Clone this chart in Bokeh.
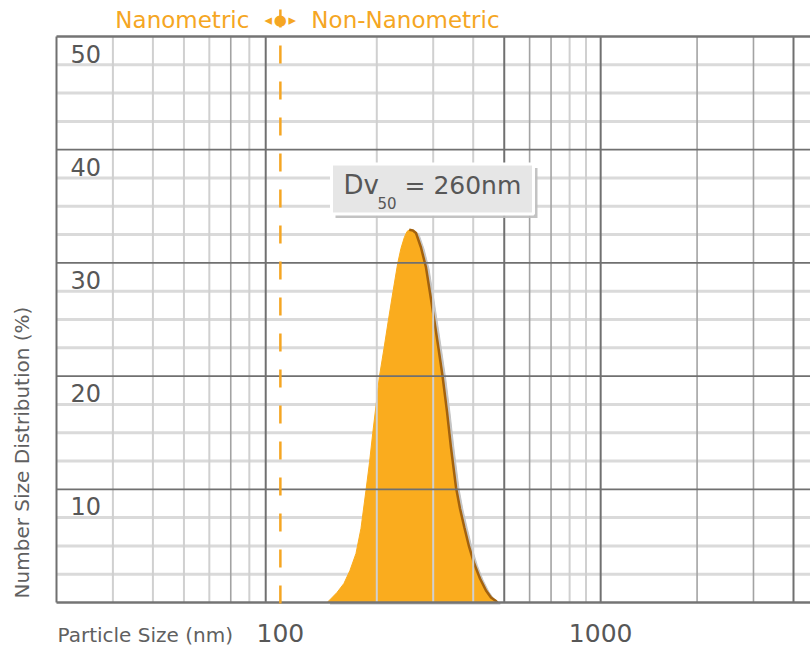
import math
from bokeh.plotting import figure
from bokeh.models import Range1d, Label, BoxAnnotation
from bokeh.embed import file_html
from bokeh.resources import INLINE

# ---------------- data ----------------
size_nm = [140, 142.1, 150.2, 157.9, 164.9, 172.2, 178.5, 185.0, 189.8, 194.2, 198.9,
           203.6, 210.6, 217.3, 224.7, 232.4, 237.9, 243.7, 248.5, 252.6,
           259.4, 265.1, 274.8, 284.8, 293.1, 302.4, 311.7, 321.2, 331.3, 340.9,
           353.4, 363.7, 375.2, 388.1, 403.0, 420.0, 438.5, 454.5, 471.2, 476]
dist_pct = [0.0, 0.18, 0.88, 1.68, 2.83, 4.33, 6.54, 9.89, 12.37, 14.93, 17.40,
            19.88, 22.44, 24.91, 27.47, 29.95, 31.27, 32.24, 32.77, 32.92,
            32.86, 32.64, 31.36, 29.62, 27.39, 24.91, 22.44, 19.90, 16.87, 13.69,
            10.19, 8.30, 6.65, 4.95, 3.42, 2.12, 1.06, 0.44, 0.13, 0.0]
peak_index = 19

x_tick_values = [100, 1000]
x_tick_labels = ["100", "1000"]
y_tick_values = [10, 20, 30, 40, 50]
y_tick_labels = ["10", "20", "30", "40", "50"]

grid_x_dark = [90, 500, 1000, 4000]
grid_x_medium = [70, 600, 700, 2000, 3000]
grid_x_light = [30, 40, 50, 60, 80, 200, 300, 400, 800, 900]
grid_y_dark = [10, 20, 30, 40]
grid_y_light = [2.5, 5, 7.5, 12.5, 15, 17.5, 22.5, 25, 27.5, 32.5, 35, 37.5, 42.5, 45, 47.5]

x_min, x_max = 20, 4520
y_min, y_max = 0, 50
nano_boundary = 100
dv50_main = "Dv"
dv50_sub = "50"
dv50_value = "= 260nm"

# ---------------- layout (pixels) ----------------
W, H = 810, 647
BOX_L, BOX_R, BOX_T, BOX_B = 56, 810, 36, 602
dec_px = (BOX_R - BOX_L) / math.log10(x_max / x_min)
unit_px = (BOX_B - BOX_T) / (y_max - y_min)
x_start = x_min / 10 ** (BOX_L / dec_px)
x_end = x_max * 10 ** ((W - BOX_R) / dec_px)
y_start = y_min - (H - BOX_B) / unit_px
y_end = y_max + BOX_T / unit_px


def sy(py):
    """page y (from top) -> frame screen y (from bottom)"""
    return H - py


def dy(py):
    """page y (from top) -> data y"""
    return y_max - (py - BOX_T) / unit_px


def dx(px):
    return x_min * 10 ** ((px - BOX_L) / dec_px)


# ---------------- styles ----------------
ORANGE = "#FAAC1E"
ORANGE_TXT = "#F5A623"
BROWN = "#A3620E"
TXT = "#575757"
FONT = "DejaVu Sans"

p = figure(width=W, height=H, x_axis_type="log",
           x_range=Range1d(x_start, x_end), y_range=Range1d(y_start, y_end),
           output_backend="svg", toolbar_location=None,
           min_border=0, min_border_left=0, min_border_right=0,
           min_border_top=0, min_border_bottom=0)
p.xaxis.visible = False
p.yaxis.visible = False
p.xgrid.visible = False
p.ygrid.visible = False
p.outline_line_color = None
p.background_fill_color = "white"
p.border_fill_color = "white"

# light horizontal grid (under the curve)
p.segment(x0=x_min, x1=x_max, y0=grid_y_light, y1=grid_y_light,
          line_color="#dadada", line_width=3)

# curve: shadow, fill, right edge
shift = 10 ** (3 / dec_px)
p.patch([v * shift for v in size_nm], [v - 1.5 / unit_px for v in dist_pct],
        fill_color="#c4c4c4", line_color="#c4c4c4", line_width=1)
p.patch(size_nm, dist_pct, fill_color=ORANGE, line_color=ORANGE, line_width=1)
p.line(size_nm[peak_index:], dist_pct[peak_index:], line_color=BROWN, line_width=2.5)

# grid lines over the curve
p.segment(x0=grid_x_light, x1=grid_x_light, y0=y_min, y1=y_max,
          line_color="#d0d0d0", line_width=2)
p.segment(x0=grid_x_medium, x1=grid_x_medium, y0=y_min, y1=y_max,
          line_color="#a3a3a3", line_width=1.6)
p.segment(x0=x_min, x1=x_max, y0=grid_y_dark, y1=grid_y_dark,
          line_color="#707070", line_width=1.8)
p.segment(x0=grid_x_dark + [x_min], x1=grid_x_dark + [x_min], y0=y_min, y1=y_max,
          line_color="#707070", line_width=2)
p.segment(x0=x_min, x1=x_max, y0=[y_min, y_max], y1=[y_min, y_max],
          line_color="#747474", line_width=2.5)

# nanometric boundary dashed line
p.segment(x0=nano_boundary, x1=nano_boundary, y0=dy(9), y1=dy(609),
          line_color=ORANGE_TXT, line_width=2.5, line_dash="18 18")

# y tick labels (inside the frame)
for v, t in zip(y_tick_values, y_tick_labels):
    p.add_layout(Label(x=70, y=v, x_units="screen", y_units="data", y_offset=-17,
                       text=t, text_font=FONT, text_font_size="24px", text_color=TXT,
                       text_align="left", text_baseline="middle"))

# x tick labels
for v, t in zip(x_tick_values, x_tick_labels):
    p.add_layout(Label(x=v, y=sy(632), x_units="data", y_units="screen",
                       text=t, text_font=FONT, text_font_size="25px", text_color=TXT,
                       text_align="center", text_baseline="middle"))

p.add_layout(Label(x=57, y=sy(634), x_units="screen", y_units="screen",
                   text="Particle Size (nm)", text_font=FONT, text_font_size="20px",
                   text_color="#606060", text_align="left", text_baseline="middle"))
p.add_layout(Label(x=21.5, y=sy(452), x_units="screen", y_units="screen", angle=math.pi / 2,
                   text="Number Size Distribution (%)", text_font=FONT, text_font_size="20px",
                   text_color="#606060", text_align="center", text_baseline="middle"))

# header
p.add_layout(Label(x=nano_boundary, y=sy(19), x_units="data", y_units="screen", x_offset=-31,
                   text="Nanometric", text_font=FONT, text_font_size="23px",
                   text_color=ORANGE_TXT, text_align="right", text_baseline="middle"))
p.add_layout(Label(x=nano_boundary, y=sy(19), x_units="data", y_units="screen", x_offset=31,
                   text="Non-Nanometric", text_font=FONT, text_font_size="23px",
                   text_color=ORANGE_TXT, text_align="left", text_baseline="middle"))
for sym, off in [("\u25C2", -12), ("\u25CF", 0), ("\u25B8", 12)]:
    p.add_layout(Label(x=nano_boundary, y=sy(19), x_units="data", y_units="screen", x_offset=off,
                       text=sym, text_font=FONT, text_font_size="15px",
                       text_color=ORANGE_TXT, text_align="center", text_baseline="middle"))

# Dv50 box
box_l, box_r, box_t, box_b = dx(331), dx(533), dy(163.5), dy(213.5)
p.add_layout(BoxAnnotation(left=dx(335), right=dx(537), top=dy(167.5), bottom=dy(217.5),
                           fill_color="#bcbcbc", fill_alpha=0.9, line_alpha=0))
p.add_layout(BoxAnnotation(left=box_l, right=box_r, top=box_t, bottom=box_b,
                           fill_color="#e6e6e6", fill_alpha=1, line_color="white",
                           line_alpha=1, line_width=3))
p.add_layout(Label(x=343, y=sy(184.5), x_units="screen", y_units="screen", text=dv50_main,
                   text_font=FONT, text_font_size="26px", text_color=TXT,
                   text_baseline="middle"))
p.add_layout(Label(x=377, y=sy(202), x_units="screen", y_units="screen", text=dv50_sub,
                   text_font=FONT, text_font_size="15px", text_color=TXT,
                   text_baseline="middle"))
p.add_layout(Label(x=404, y=sy(184.5), x_units="screen", y_units="screen", text=dv50_value,
                   text_font=FONT, text_font_size="25px", text_color=TXT,
                   text_baseline="middle"))

open("out.html", "w").write(file_html(p, INLINE))
